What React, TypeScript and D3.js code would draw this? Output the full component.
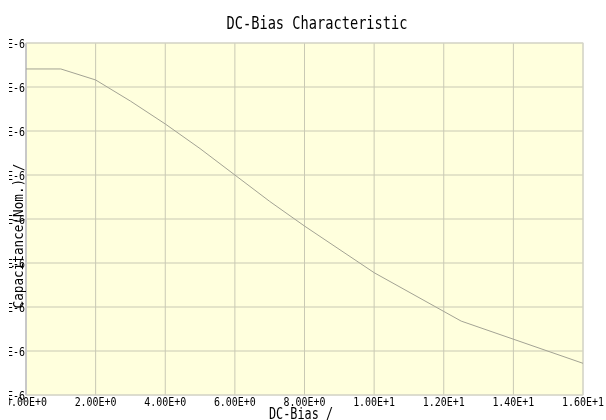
import React from 'react';
import * as d3 from 'd3';

// DC bias (V) and capacitance (F)
const biasValues = [0, 1, 2, 3, 4, 5, 6, 7, 8, 10, 12.5, 16];
const capValues = [
  5.705e-6, 5.705e-6, 5.58e-6, 5.34e-6, 5.08e-6, 4.8e-6, 4.5e-6, 4.2e-6, 3.92e-6, 3.39e-6,
  2.84e-6, 2.36e-6,
];
const xTicks = [0, 2, 4, 6, 8, 10, 12, 14, 16];
const yTicks = [2e-6, 2.5e-6, 3e-6, 3.5e-6, 4e-6, 4.5e-6, 5e-6, 5.5e-6, 6e-6];

const FONT = '"DejaVu Sans Mono", "Liberation Mono", monospace';

const App = () => {
  // pinned to the page corner so no scrollbar appears
  const width = 606,
    height = 420;
  const margin = { top: 43, right: 23, bottom: 25, left: 26 };

  const x = d3
    .scaleLinear()
    .domain([0, 16])
    .range([margin.left, width - margin.right]);

  const y = d3
    .scaleLinear()
    .domain([2e-6, 6e-6])
    .range([height - margin.bottom, margin.top]);

  const fmt = (v: number) => d3.format('.2e')(v).replace('e', 'E');

  const line = d3
    .line<number>()
    .x((d, i) => x(biasValues[i]))
    .y((d) => y(d));

  const plotW = x(16) - x(0);
  const plotH = y(2e-6) - y(6e-6);

  return (
    <svg
      width={width}
      height={height}
      style={{ position: 'fixed', left: 0, top: 0, display: 'block' }}
    >
      <defs>
        <clipPath id="leftClip">
          <rect x={9} y={0} width={width - 9} height={height} />
        </clipPath>
      </defs>

      <text
        x={317}
        y={29}
        textAnchor="middle"
        fontFamily={FONT}
        fontSize={18}
        textLength={181}
        lengthAdjust="spacingAndGlyphs"
        fill="#000"
      >
        DC-Bias Characteristic
      </text>

      <rect x={x(0)} y={y(6e-6)} width={plotW} height={plotH} fill="#ffffdd" />

      {/* grid */}
      {xTicks.map((t) => (
        <line
          key={'gx' + t}
          x1={x(t)}
          x2={x(t)}
          y1={y(6e-6)}
          y2={y(2e-6)}
          stroke="#c9c9b4"
          strokeWidth={1}
        />
      ))}
      {yTicks.map((t) => (
        <line
          key={'gy' + t}
          x1={x(0)}
          x2={x(16)}
          y1={y(t)}
          y2={y(t)}
          stroke="#c9c9b4"
          strokeWidth={1}
        />
      ))}

      <rect
        x={x(0)}
        y={y(6e-6)}
        width={plotW}
        height={plotH}
        fill="none"
        stroke="#d6d6cc"
        strokeWidth={1}
      />
      <line x1={x(0)} x2={x(0)} y1={y(6e-6)} y2={y(2e-6)} stroke="#c8c8c8" strokeWidth={2} />

      <path d={line(capValues) || ''} fill="none" stroke="#a3a394" strokeWidth={1} />

      <g clipPath="url(#leftClip)">
        {/* x tick labels */}
        {xTicks.map((t) => (
          <text
            key={'tx' + t}
            x={x(t)}
            y={406}
            textAnchor="middle"
            fontFamily={FONT}
            fontSize={13}
            textLength={42}
            lengthAdjust="spacingAndGlyphs"
            fill="#000"
          >
            {fmt(t)}
          </text>
        ))}

        {/* y tick labels, mostly cut off at the left edge */}
        {yTicks.map((t) => (
          <text
            key={'ty' + t}
            x={25}
            y={y(t)}
            dy="0.35em"
            textAnchor="end"
            fontFamily={FONT}
            fontSize={13}
            textLength={42}
            lengthAdjust="spacingAndGlyphs"
            fill="#000"
          >
            {fmt(t)}
          </text>
        ))}
      </g>

      <text
        x={301}
        y={419}
        textAnchor="middle"
        fontFamily={FONT}
        fontSize={15}
        textLength={64}
        lengthAdjust="spacingAndGlyphs"
        fill="#000"
      >
        DC-Bias /
      </text>

      <text
        transform={`translate(23,236) rotate(-90)`}
        textAnchor="middle"
        fontFamily={FONT}
        fontSize={14}
        textLength={145}
        lengthAdjust="spacingAndGlyphs"
        fill="#000"
      >
        Capacitance(Nom.) /
      </text>
    </svg>
  );
};

export default App;
